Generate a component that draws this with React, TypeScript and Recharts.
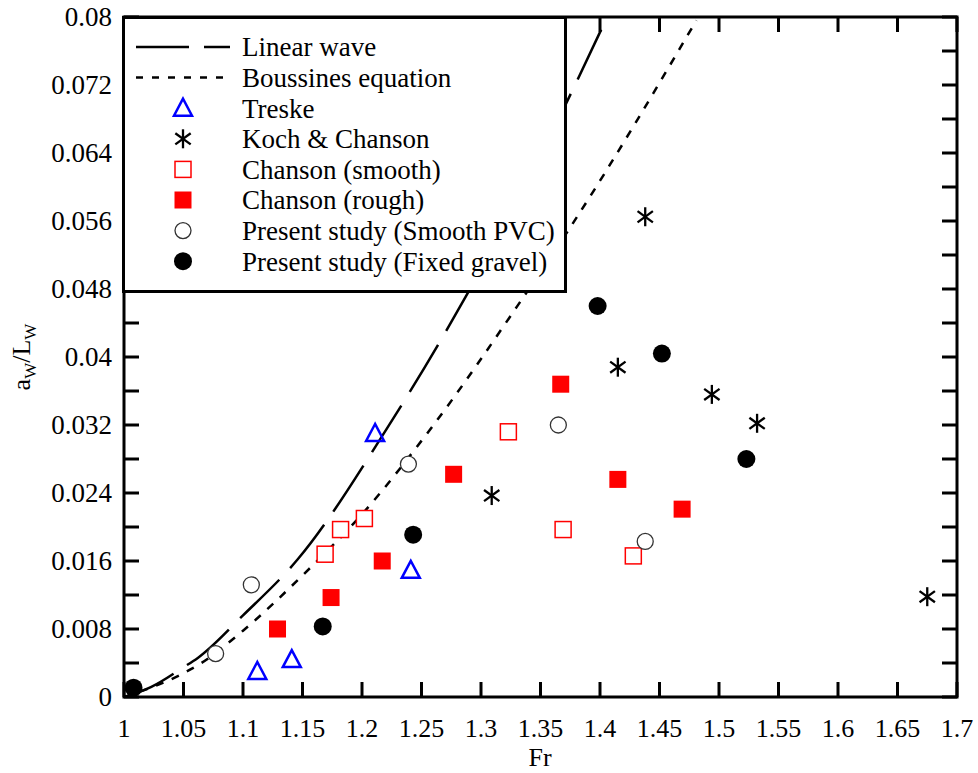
import { ComposedChart, XAxis, YAxis, Line, Scatter, Legend, ReferenceArea } from 'recharts';

// axis ticks
const xTicks = [1, 1.05, 1.1, 1.15, 1.2, 1.25, 1.3, 1.35, 1.4, 1.45, 1.5, 1.55, 1.6, 1.65, 1.7];
const yTicks = [0, 0.004, 0.008, 0.012, 0.016, 0.02, 0.024, 0.028, 0.032, 0.036, 0.04, 0.044, 0.048, 0.052, 0.056, 0.06, 0.064, 0.068, 0.072, 0.076, 0.08];
const yLabelled = [0, 0.008, 0.016, 0.024, 0.032, 0.04, 0.048, 0.056, 0.064, 0.072, 0.08];

// theory curves
const linearFr = [1.0, 1.023, 1.05, 1.062, 1.1, 1.146, 1.221, 1.288, 1.369, 1.406];
const linearRatio = [0, 0.0012, 0.0035, 0.0046, 0.0096, 0.0162, 0.0316, 0.0473, 0.0691, 0.08];
const boussFr = [1.0, 1.05, 1.065, 1.1, 1.15, 1.2, 1.259, 1.333, 1.378, 1.481];
const boussRatio = [0, 0.0028, 0.004, 0.0078, 0.0143, 0.0215, 0.0318, 0.0465, 0.0559, 0.0796];

// measurements
const treskeFr = [1.112, 1.141, 1.211, 1.241];
const treskeRatio = [0.003, 0.0044, 0.031, 0.0149];
const kochFr = [1.309, 1.415, 1.438, 1.494, 1.532, 1.675];
const kochRatio = [0.0237, 0.0388, 0.0565, 0.0356, 0.0322, 0.0118];
const smoothFr = [1.169, 1.182, 1.202, 1.323, 1.369, 1.428];
const smoothRatio = [0.0168, 0.0197, 0.021, 0.0312, 0.0197, 0.0166];
const roughFr = [1.129, 1.174, 1.217, 1.277, 1.367, 1.415, 1.469];
const roughRatio = [0.008, 0.0117, 0.016, 0.0262, 0.0368, 0.0256, 0.0221];
const pvcFr = [1.077, 1.107, 1.239, 1.365, 1.438];
const pvcRatio = [0.0051, 0.0132, 0.0274, 0.032, 0.0183];
const gravelFr = [1.008, 1.167, 1.243, 1.398, 1.452, 1.523];
const gravelRatio = [0.0011, 0.0083, 0.0191, 0.046, 0.0404, 0.028];

const zip = (xs: number[], ys: number[]) => xs.map((x, i) => ({ x, y: ys[i] }));

const FONT = '"Liberation Serif", "Times New Roman", serif';
const PLOT_W = 833;
const PLOT_H = 680;
const TICK = 15;

const Triangle = ({ cx, cy }: any) => (
  <polygon points={`${cx},${cy - 9.5} ${cx - 9},${cy + 7.5} ${cx + 9},${cy + 7.5}`} fill="none" stroke="#0000ff" strokeWidth={2.5} />
);
const Star = ({ cx, cy }: any) => {
  const r = 9.5;
  const a = r * Math.cos(Math.PI / 5);
  const b = r * Math.sin(Math.PI / 5);
  return (
    <g stroke="#000" strokeWidth={2.3}>
      <line x1={cx} y1={cy - r} x2={cx} y2={cy + r} />
      <line x1={cx - a} y1={cy - b} x2={cx + a} y2={cy + b} />
      <line x1={cx - a} y1={cy + b} x2={cx + a} y2={cy - b} />
    </g>
  );
};
const OpenSquare = ({ cx, cy }: any) => (
  <rect x={cx - 8} y={cy - 8} width={16} height={16} fill="#fff" stroke="#ff0000" strokeWidth={1.5} />
);
const FilledSquare = ({ cx, cy }: any) => <rect x={cx - 8.5} y={cy - 8.5} width={17} height={17} fill="#ff0000" />;
const OpenCircle = ({ cx, cy }: any) => <circle cx={cx} cy={cy} r={8} fill="#fff" stroke="#333" strokeWidth={1.3} />;
const FilledCircle = ({ cx, cy }: any) => <circle cx={cx} cy={cy} r={9} fill="#000" />;

const XTick = ({ x, y, payload }: any) => (
  <g>
    <line x1={x} y1={y} x2={x} y2={y - TICK} stroke="#000" strokeWidth={3} />
    <line x1={x} y1={y - PLOT_H} x2={x} y2={y - PLOT_H + TICK} stroke="#000" strokeWidth={3} />
    <text x={x} y={y + 40} textAnchor="middle" fontFamily={FONT} fontSize={26} fill="#000">
      {payload.value}
    </text>
  </g>
);

const YTick = ({ x, y, payload }: any) => {
  const labelled = yLabelled.some((v) => Math.abs(v - payload.value) < 1e-9);
  return (
    <g>
      <line x1={x} y1={y} x2={x + TICK} y2={y} stroke="#000" strokeWidth={3} />
      <line x1={x + PLOT_W} y1={y} x2={x + PLOT_W - TICK} y2={y} stroke="#000" strokeWidth={3} />
      {labelled && (
        <text x={x - 12} y={y} dy="0.35em" textAnchor="end" fontFamily={FONT} fontSize={27} fill="#000">
          {String(payload.value)}
        </text>
      )}
    </g>
  );
};

const legendRows = [
  { label: 'Linear wave', kind: 'long' },
  { label: 'Boussines equation', kind: 'short' },
  { label: 'Treske', kind: 'tri' },
  { label: 'Koch & Chanson', kind: 'star' },
  { label: 'Chanson (smooth)', kind: 'osq' },
  { label: 'Chanson (rough)', kind: 'fsq' },
  { label: 'Present study (Smooth PVC)', kind: 'ocir' },
  { label: 'Present study (Fixed gravel)', kind: 'fcir' },
];

const LegendBox = () => (
  <svg width={445} height={277} style={{ display: 'block' }}>
    <rect x={1.5} y={1.5} width={442} height={274} fill="#fff" stroke="#000" strokeWidth={3} />
    {legendRows.map((r, i) => {
      const cy = 31 + i * 30.6;
      const cx = 61;
      let mark: any = null;
      if (r.kind === 'long') {
        mark = (
          <g stroke="#000" strokeWidth={2.5}>
            <line x1={14} y1={cy} x2={67} y2={cy} />
            <line x1={82} y1={cy} x2={108} y2={cy} />
          </g>
        );
      } else if (r.kind === 'short') {
        mark = <line x1={14} y1={cy} x2={108} y2={cy} stroke="#000" strokeWidth={2.5} strokeDasharray="7 9" />;
      } else if (r.kind === 'tri') mark = <Triangle cx={cx} cy={cy} />;
      else if (r.kind === 'star') mark = <Star cx={cx} cy={cy} />;
      else if (r.kind === 'osq') mark = <OpenSquare cx={cx} cy={cy} />;
      else if (r.kind === 'fsq') mark = <FilledSquare cx={cx} cy={cy} />;
      else if (r.kind === 'ocir') mark = <OpenCircle cx={cx} cy={cy} />;
      else mark = <FilledCircle cx={cx} cy={cy} />;
      return (
        <g key={r.label}>
          {mark}
          <text x={120} y={cy} dy="0.35em" fontFamily={FONT} fontSize={27} fill="#000">
            {r.label}
          </text>
        </g>
      );
    })}
  </svg>
);

export default function App() {
  return (
    <div style={{ position: 'absolute', left: 0, top: 0, background: '#fff' }}>
      <ComposedChart width={978} height={773} margin={{ top: 17, right: 21, left: 0, bottom: 0 }}>
        <XAxis
          type="number"
          dataKey="x"
          domain={[1, 1.7]}
          ticks={xTicks}
          interval={0}
          allowDataOverflow
          axisLine={false}
          tickLine={false}
          tickSize={0}
          tickMargin={0}
          height={76}
          tick={<XTick />}
          label={{
            content: () => (
              <text x={540} y={766} textAnchor="middle" fontFamily={FONT} fontSize={26} fill="#000">
                Fr
              </text>
            ),
          }}
        />
        <YAxis
          type="number"
          dataKey="y"
          domain={[0, 0.08]}
          ticks={yTicks}
          interval={0}
          allowDataOverflow
          axisLine={false}
          tickLine={false}
          tickSize={0}
          tickMargin={0}
          width={124}
          tick={<YTick />}
          label={{
            content: () => (
              <text transform="translate(30, 357) rotate(-90)" textAnchor="middle" fontFamily={FONT} fontSize={26} fill="#000">
                a<tspan dy={6} fontSize={17}>W</tspan>
                <tspan dy={-6}>/L</tspan>
                <tspan dy={6} fontSize={17}>W</tspan>
              </text>
            ),
          }}
        />
        <ReferenceArea x1={1} x2={1.7} y1={0} y2={0.08} fill="none" stroke="#000" strokeWidth={3} ifOverflow="extendDomain" />
        <Line
          data={zip(linearFr, linearRatio)}
          dataKey="y"
          type="monotone"
          stroke="#000"
          strokeWidth={2.5}
          strokeDasharray="55 16"
          dot={false}
          activeDot={false}
          isAnimationActive={false}
        />
        <Line
          data={zip(boussFr, boussRatio)}
          dataKey="y"
          type="monotone"
          stroke="#000"
          strokeWidth={2.5}
          strokeDasharray="8 9"
          dot={false}
          activeDot={false}
          isAnimationActive={false}
        />
        <Scatter data={zip(treskeFr, treskeRatio)} dataKey="y" shape={<Triangle />} isAnimationActive={false} />
        <Scatter data={zip(kochFr, kochRatio)} dataKey="y" shape={<Star />} isAnimationActive={false} />
        <Scatter data={zip(smoothFr, smoothRatio)} dataKey="y" shape={<OpenSquare />} isAnimationActive={false} />
        <Scatter data={zip(roughFr, roughRatio)} dataKey="y" shape={<FilledSquare />} isAnimationActive={false} />
        <Scatter data={zip(pvcFr, pvcRatio)} dataKey="y" shape={<OpenCircle />} isAnimationActive={false} />
        <Scatter data={zip(gravelFr, gravelRatio)} dataKey="y" shape={<FilledCircle />} isAnimationActive={false} />
        <Legend
          layout="vertical"
          align="center"
          verticalAlign="middle"
          content={<LegendBox />}
          wrapperStyle={{ position: 'absolute', left: 122, top: 16, width: 445, height: 277 }}
        />
      </ComposedChart>
    </div>
  );
}
